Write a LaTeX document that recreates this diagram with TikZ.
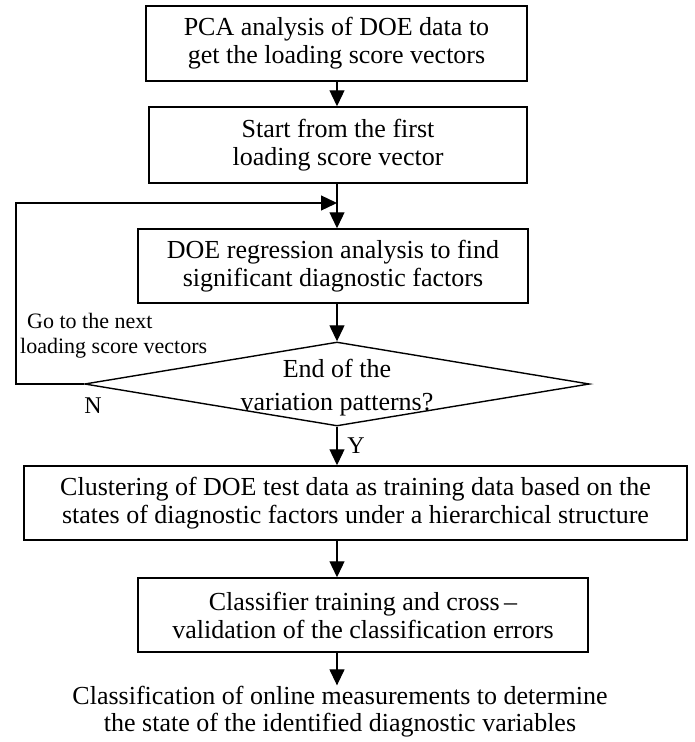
\documentclass[tikz,border=0pt]{standalone}
\usepackage{fontspec}
\setmainfont{Liberation Serif}
\usetikzlibrary{shapes.geometric,arrows.meta}
\begin{document}
\begin{tikzpicture}[x=1pt,y=-1pt,
  box/.style={draw, line width=1.5pt, inner sep=0pt, align=center,
    font=\fontsize{26}{28}\selectfont},
  decision/.style={draw, diamond, line width=1.4pt, inner sep=0pt},
  conn/.style={line width=1.3pt},
  arr/.style={conn, -{Triangle[length=16pt,width=15pt]}},
  lbl/.style={inner sep=0pt}]
\useasboundingbox (0,0) rectangle (695,742);
\coordinate (col) at (337,0);
\coordinate (lp) at (16,203);

\node[box, minimum width=381pt, minimum height=75pt] (b1) at (336.5,43.5)
  {PCA analysis of DOE data to\\get the loading score vectors};
\node[box, minimum width=378pt, minimum height=76pt] (b2) at (338,145)
  {Start from the first\\loading score vector};
\node[box, minimum width=390pt, minimum height=74pt] (b3) at (333,266)
  {DOE regression analysis to find\\significant diagnostic factors};
\node[decision, minimum width=505pt, minimum height=84pt] (dec) at (337,384) {};
\node[lbl, align=center, font=\fontsize{26}{33}\selectfont] (dectext) at (337,387.5)
  {End of the\\variation patterns?};
\node[box, minimum width=663pt, minimum height=74pt] (b4) at (355.5,503)
  {Clustering of DOE test data as training data based on the\\states of diagnostic factors under a hierarchical structure};
\node[box, minimum width=450pt, minimum height=74pt] (b5) at (363,615)
  {Classifier training and cross\,–\\validation of the classification errors};
\node[inner sep=1pt, align=center, font=\fontsize{26}{27}\selectfont] (fin) at (340,712)
  {Classification of online measurements to determine\\the state of the identified diagnostic variables};

\node[lbl, anchor=north west, align=left, font=\fontsize{22}{25}\selectfont] (goto) at (20,313)
  {\hspace*{7pt}Go to the next\\loading score vectors};
\node[lbl, anchor=base, font=\fontsize{24}{24}\selectfont] (nlab) at (93,413) {N};
\node[lbl, anchor=base, font=\fontsize{24}{24}\selectfont] (ylab) at (356,453) {Y};

\draw[arr] (b1.south -| col) -- (b2.north -| col);
\draw[arr] (b2.south -| col) -- (b3.north -| col);
\draw[arr] (b3.south -| col) -- (dec.north);
\draw[arr] (dec.south) -- (b4.north -| dec.south);
\draw[arr] (b4.south -| col) -- (b5.north -| col);
\draw[arr] (b5.south -| col) -- (fin.north -| col);
\draw[arr] (dec.west) -- (dec.west -| lp) -- (lp) -- (lp -| col);
\end{tikzpicture}
\end{document}
